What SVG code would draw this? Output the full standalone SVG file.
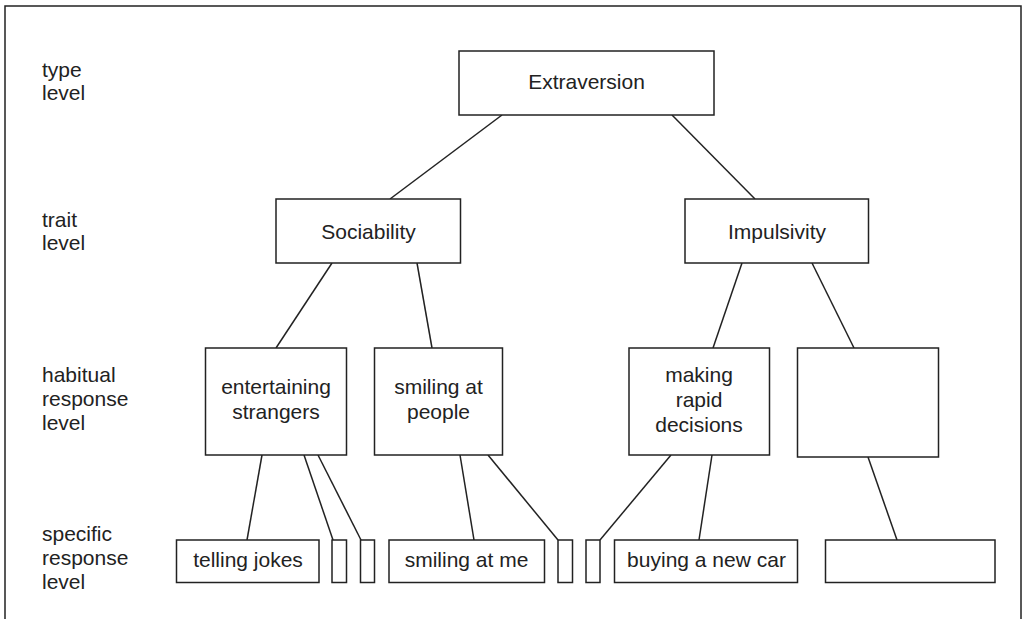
<svg xmlns="http://www.w3.org/2000/svg" width="1026" height="619" viewBox="0 0 1026 619">
<style>
  .box { fill: #fff; stroke: #222; stroke-width: 1.5; }
  .ln { stroke: #222; stroke-width: 1.5; fill: none; }
  text { font-family: "Liberation Sans", Arial, sans-serif; font-size: 21px; fill: #222; }
  .c { text-anchor: middle; }
</style>
<rect x="0" y="0" width="1026" height="619" fill="#fff"/>
<rect x="5" y="6" width="1016" height="640" fill="none" stroke="#222" stroke-width="1.5"/>

<g id="level-labels">
  <text x="42" y="77">type</text>
  <text x="42" y="100">level</text>
  <text x="42" y="227">trait</text>
  <text x="42" y="250">level</text>
  <text x="42" y="382">habitual</text>
  <text x="42" y="406">response</text>
  <text x="42" y="430">level</text>
  <text x="42" y="541">specific</text>
  <text x="42" y="565">response</text>
  <text x="42" y="589">level</text>
</g>

<g id="connectors">
  <line class="ln" x1="502" y1="115" x2="390" y2="199"/>
  <line class="ln" x1="672" y1="115" x2="755" y2="199"/>
  <line class="ln" x1="332" y1="263" x2="276" y2="348"/>
  <line class="ln" x1="417" y1="263" x2="432" y2="348"/>
  <line class="ln" x1="742" y1="263" x2="713" y2="348"/>
  <line class="ln" x1="812" y1="263" x2="854" y2="348"/>
  <line class="ln" x1="262" y1="455" x2="247" y2="540"/>
  <line class="ln" x1="304" y1="455" x2="333" y2="540"/>
  <line class="ln" x1="318" y1="455" x2="361" y2="540"/>
  <line class="ln" x1="460" y1="455" x2="474" y2="540"/>
  <line class="ln" x1="488" y1="455" x2="558" y2="540"/>
  <line class="ln" x1="671" y1="455" x2="600" y2="540"/>
  <line class="ln" x1="712" y1="455" x2="699" y2="540"/>
  <line class="ln" x1="868" y1="457" x2="897" y2="540"/>
</g>

<g id="extraversion">
  <rect class="box" x="459" y="51" width="255" height="64"/>
  <text class="c" x="586.5" y="89">Extraversion</text>
</g>
<g id="sociability">
  <rect class="box" x="276" y="199" width="184.5" height="64"/>
  <text class="c" x="368.5" y="239">Sociability</text>
</g>
<g id="impulsivity">
  <rect class="box" x="685" y="199" width="183.5" height="64"/>
  <text class="c" x="777" y="239">Impulsivity</text>
</g>

<g id="entertaining-strangers">
  <rect class="box" x="205.5" y="348" width="141" height="107"/>
  <text class="c" x="276" y="394">entertaining</text>
  <text class="c" x="276" y="419">strangers</text>
</g>
<g id="smiling-at-people">
  <rect class="box" x="374.5" y="348" width="128" height="107"/>
  <text class="c" x="438.5" y="394">smiling at</text>
  <text class="c" x="438.5" y="419">people</text>
</g>
<g id="making-rapid-decisions">
  <rect class="box" x="629" y="348" width="140.5" height="107"/>
  <text class="c" x="699" y="382">making</text>
  <text class="c" x="699" y="407">rapid</text>
  <text class="c" x="699" y="432">decisions</text>
</g>
<g id="habitual-blank">
  <rect class="box" x="797.5" y="348" width="141" height="109"/>
</g>

<g id="telling-jokes">
  <rect class="box" x="176.5" y="540" width="142.5" height="42.5"/>
  <text class="c" x="248" y="567">telling jokes</text>
</g>
<g id="specific-small-1">
  <rect class="box" x="332" y="540" width="14.5" height="42.5"/>
</g>
<g id="specific-small-2">
  <rect class="box" x="360.5" y="540" width="14" height="42.5"/>
</g>
<g id="smiling-at-me">
  <rect class="box" x="389" y="540" width="155.5" height="42.5"/>
  <text class="c" x="466.5" y="567">smiling at me</text>
</g>
<g id="specific-small-3">
  <rect class="box" x="558" y="540" width="14.5" height="42.5"/>
</g>
<g id="specific-small-4">
  <rect class="box" x="586" y="540" width="14" height="42.5"/>
</g>
<g id="buying-a-new-car">
  <rect class="box" x="614.5" y="540" width="183" height="42.5"/>
  <text class="c" x="706.5" y="567">buying a new car</text>
</g>
<g id="specific-blank">
  <rect class="box" x="825.5" y="540" width="169.5" height="42.5"/>
</g>
</svg>
